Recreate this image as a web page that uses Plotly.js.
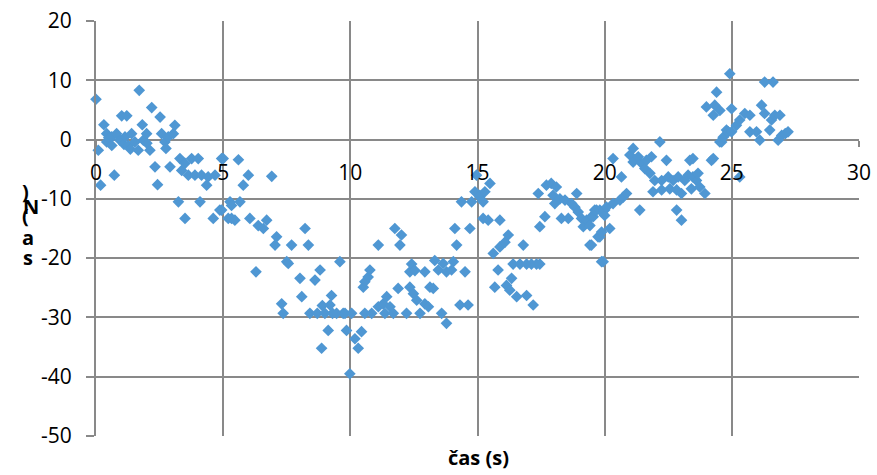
<!DOCTYPE html>
<html>
<head>
<meta charset="utf-8">
<script src="https://cdn.plot.ly/plotly-3.0.1.min.js"></script>
<style>html,body{margin:0;padding:0;background:#fff;}#chart{width:877px;height:475px;}</style>
</head>
<body>
<div id="chart"></div>
<script>
const timeS = [
0.0,0.09,0.18,0.31,0.42,0.42,0.5,0.62,0.62,0.72,0.81,0.94,1.01,1.1,1.14,1.21,1.27,1.35,1.40,1.53,1.66,1.70,1.82,1.86,1.99,2.0,2.12,2.19,2.32,2.42,2.52,2.58,2.71,2.75,2.84,2.91,3.04,3.1,
3.24,3.30,3.37,3.50,3.50,3.63,3.76,3.89,4.02,4.09,4.15,4.35,4.41,4.61,4.68,4.87,4.94,4.94,5.0,
5.2,5.27,5.33,5.33,5.46,5.6,5.66,5.79,5.99,6.05,6.29,6.38,6.58,6.71,6.91,7.04,7.10,7.30,7.36,7.50,7.56,7.69,8.02,8.09,8.22,8.35,8.41,8.61,8.7,8.81,8.87,8.9,9.0,9.13,9.20,9.26,9.3,9.46,9.59,9.72,9.79,9.85,9.98,10.05,
10.18,10.31,10.44,10.51,10.57,10.57,10.70,10.77,10.84,11.1,11.1,11.29,11.36,11.43,11.56,11.69,11.75,11.88,11.95,12.01,12.21,12.34,12.34,12.41,12.48,12.54,12.61,12.74,12.93,12.93,13.07,13.13,13.26,13.32,13.46,13.59,13.65,13.78,13.78,13.98,14.05,14.11,14.18,14.31,14.37,14.51,14.63,14.70,14.77,14.9,
14.96,15.09,15.09,15.22,15.22,15.29,15.42,15.49,15.62,15.68,15.81,15.88,15.88,16.08,16.14,16.21,16.27,16.34,16.40,16.54,16.67,16.8,16.93,16.93,17.12,17.19,17.32,17.39,17.45,17.45,17.65,17.71,17.9,17.97,18.04,18.10,18.24,18.30,18.44,18.57,18.7,18.83,18.9,18.96,19.09,19.16,19.29,19.42,19.42,19.48,19.48,19.55,19.61,19.68,19.74,19.81,19.81,19.88,19.88,19.94,20.0,20.0,
20.07,20.2,20.33,20.33,20.6,20.66,20.73,20.86,20.99,21.12,21.12,21.32,21.38,21.45,21.58,21.64,21.78,21.84,21.9,21.97,22.17,22.24,22.24,22.43,22.5,22.56,22.69,22.83,22.83,22.89,23.02,23.02,23.15,23.28,23.35,23.41,23.47,23.47,23.61,23.67,23.74,23.94,24.0,24.2,
24.27,24.27,24.33,24.40,24.53,24.53,24.60,24.66,24.79,24.86,24.92,24.99,24.99,25.18,25.31,25.31,25.51,25.71,25.71,25.97,26.1,26.17,26.29,26.29,26.49,26.56,26.62,26.69,26.82,26.89,26.96,27.1,27.21
];
const forceN = [
6.8,-1.8,-7.7,2.5,1.0,-0.4,0.3,0.45,-1.0,-6.0,1.0,-0.1,4.0,-0.8,0.45,4.0,-1.0,-1.6,1.0,-0.4,-1.8,8.3,2.5,-0.1,1.0,-0.6,-1.8,5.4,-4.6,-7.6,3.8,1.0,-0.4,-1.5,0.45,-4.6,1.0,2.4,
-10.5,-3.2,-5.2,-4.0,-13.3,-6.0,-3.2,-6.0,-3.2,-10.5,-6.0,-7.7,-6.3,-13.3,-6.0,-11.9,-3.2,-11.9,-3.2,
-13.3,-10.5,-11.1,-13.3,-13.6,-3.4,-10.5,-7.7,-6.0,-13.3,-22.3,-14.5,-15.0,-13.6,-6.2,-17.8,-16.4,-27.7,-29.3,-20.6,-20.9,-17.8,-23.4,-26.5,-15.0,-17.8,-29.3,-23.7,-29.3,-22.0,-35.2,-28.0,-29.3,-32.2,-27.9,-26.3,-29.3,-29.3,-20.6,-29.3,-29.3,-32.2,-39.5,-29.3,
-33.6,-35.2,-32.4,-24.9,-24.0,-29.3,-23.2,-22.0,-29.3,-28.2,-17.8,-27.7,-29.3,-26.5,-28.2,-29.3,-15.0,-25.1,-17.8,-16.1,-29.3,-22.3,-24.9,-21.0,-26.0,-22.1,-27.1,-29.3,-27.7,-22.3,-28.2,-24.9,-25.1,-20.4,-22.0,-29.3,-20.9,-22.3,-31.0,-22.0,-20.6,-15.0,-17.8,-27.9,-10.5,-22.3,-27.9,-15.0,-10.5,-8.8,
-6.0,-9.7,-9.4,-13.3,-10.5,-8.8,-13.6,-7.4,-19.2,-24.9,-22.0,-13.6,-18.1,-17.3,-24.6,-16.1,-25.4,-23.4,-21.0,-26.5,-21.0,-17.8,-21.0,-26.3,-21.0,-27.9,-21.0,-9.1,-21.0,-14.7,-13.0,-7.7,-7.4,-9.4,-10.8,-8.0,-10.0,-13.3,-10.2,-13.3,-10.8,-11.4,-9.1,-12.2,-13.3,-14.7,-13.6,-14.5,-17.8,-13.0,-17.8,-13.0,-11.9,-11.9,-16.4,-11.9,-16.4,-15.6,-20.6,-20.6,-11.9,-12.8,
-11.4,-15.0,-10.8,-3.2,-10.2,-6.3,-9.7,-9.1,-2.6,-1.5,-3.8,-2.9,-11.9,-4.0,-4.9,-3.5,-5.7,-2.9,-8.8,-6.9,-0.4,-6.9,-8.5,-3.5,-6.3,-8.3,-6.9,-8.5,-11.9,-6.3,-9.1,-13.6,-6.9,-6.0,-3.5,-8.3,-6.3,-3.2,-6.9,-5.7,-8.0,-9.1,5.5,-3.5,
4.1,-3.2,5.8,8.0,4.9,-0.4,-0.4,0.4,1.6,1.3,11.1,5.2,1.3,2.4,3.3,-6.3,4.4,4.1,1.3,1.3,-0.1,5.8,9.7,4.4,1.6,3.3,9.7,4.1,-0.1,4.1,0.7,1.0,1.3
];
const xTickLabels = ['0','5','10','15','20','25','30'];
const yTickLabels = ['-50','-40','-30','-20','-10','0','10','20'];

const W = 877, H = 475;
const M = {l: 96, r: 18, t: 21, b: 39};
const PW = W - M.l - M.r, PH = H - M.t - M.b;
const px2paperX = px => (px - M.l) / PW;
const py2paperY = py => (H - M.b - py) / PH;

const gridColor = '#898989';
const FONT = 'Open Sans, Noto Sans, Liberation Sans, sans-serif';
const tickFont = {family: FONT, size: 21, color: '#000'};

const trace = {
  x: timeS, y: forceN, type: 'scatter', mode: 'markers',
  marker: {symbol: 'diamond', size: 9, color: '#4f97d3', line: {width: 0}},
  cliponaxis: false, hoverinfo: 'skip'
};

const yTitleChars = [
  {t: ')', x: 25, y: 192},
  {t: 'N', x: 31, y: 206},
  {t: '(', x: 25, y: 215},
  {t: 'a', x: 28, y: 237},
  {t: 's', x: 28, y: 257}
];
const annotations = yTitleChars.map(c => ({
  text: '<b>' + c.t + '</b>', xref: 'paper', yref: 'paper',
  x: px2paperX(c.x), y: py2paperY(c.y), xanchor: 'center', yanchor: 'middle',
  showarrow: false, font: {family: FONT, size: 20, color: '#000'}
}));
annotations.push({
  text: '<b>čas (s)</b>', xref: 'paper', yref: 'paper',
  x: px2paperX(478), y: py2paperY(457),
  xanchor: 'center', yanchor: 'middle', showarrow: false,
  font: {family: FONT, size: 20, color: '#000'}
});

const layout = {
  width: W, height: H,
  margin: M,
  paper_bgcolor: '#fff', plot_bgcolor: '#fff',
  showlegend: false,
  xaxis: {
    range: [0, 30], tickvals: [0,5,10,15,20,25,30], ticktext: xTickLabels,
    anchor: 'free', position: 50/70,
    showgrid: true, gridcolor: gridColor, gridwidth: 2,
    zeroline: false, showline: false,
    ticks: 'outside', ticklen: 6, tickwidth: 2, tickcolor: gridColor,
    ticklabelstandoff: 8,
    tickfont: tickFont, fixedrange: true
  },
  yaxis: {
    range: [-50, 20], tickvals: [-50,-40,-30,-20,-10,0,10,20], ticktext: yTickLabels,
    showgrid: true, gridcolor: gridColor, gridwidth: 2,
    zeroline: false, showline: true, linecolor: gridColor, linewidth: 2,
    ticks: 'outside', ticklen: 8, tickwidth: 2, tickcolor: gridColor,
    ticklabelstandoff: 10,
    tickfont: tickFont, fixedrange: true
  },
  annotations: annotations
};

Plotly.newPlot('chart', [trace], layout, {displayModeBar: false, staticPlot: true});
</script>
</body>
</html>
